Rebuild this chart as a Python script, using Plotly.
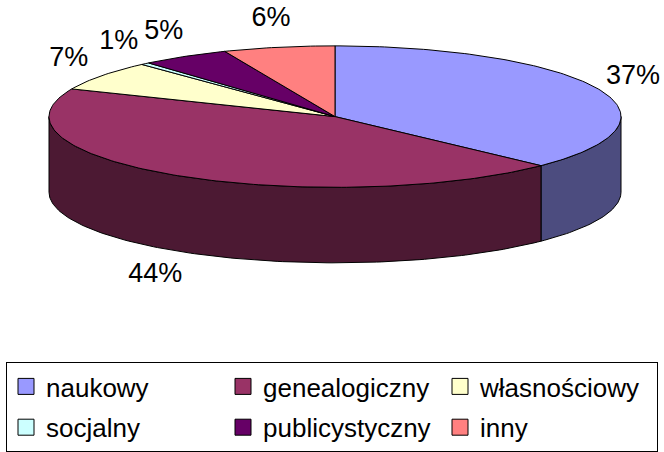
import numpy as np
import plotly.graph_objects as go

# ---- data ----
categories = ["naukowy", "genealogiczny", "własnościowy", "socjalny", "publicystyczny", "inny"]
values = [37.2, 44.2, 6.8, 0.5, 5.0, 6.3]
colors = ["#9999FF", "#993366", "#FFFFCC", "#CCFFFF", "#660066", "#FF8080"]

# ---- layout / geometry of the 3-D pie (pixel units) ----
W, H = 664, 452
CX, CY, RX, RY, DEPTH = 335, 122, 286, 74, 79
FONT = "Liberation Sans, Arial, sans-serif"
LABEL_SIZE = 27


def darken(hexc, f=0.5):
    h = hexc.lstrip("#")
    r, g, b = (int(h[i:i + 2], 16) for i in (0, 2, 4))
    return "#%02X%02X%02X" % (int(r * f), int(g * f), int(b * f))


def ell(theta_deg, dz=0.0):
    t = np.radians(theta_deg)
    return CX + RX * np.sin(t), CY - RY * np.cos(t) + dz


total = float(sum(values))
bounds = np.concatenate([[0.0], np.cumsum(values)]) * 360.0 / total

fig = go.Figure()

# side walls (front half only: 90..270 deg clockwise from 12 o'clock)
for i, c in enumerate(colors):
    a0, a1 = bounds[i], bounds[i + 1]
    lo, hi = max(a0, 90.0), min(a1, 270.0)
    if hi <= lo:
        continue
    n = max(3, int(hi - lo) + 2)
    th = np.linspace(lo, hi, n)
    xt, yt = ell(th)
    xb, yb = ell(th[::-1], DEPTH)
    xs = np.concatenate([xt, xb, xt[:1]])
    ys = np.concatenate([yt, yb, yt[:1]])
    fig.add_trace(go.Scatter(x=xs, y=ys, mode="lines", fill="toself",
                             fillcolor=darken(c), line=dict(color="black", width=1),
                             hoverinfo="skip", showlegend=False))

# top faces
for i, c in enumerate(colors):
    a0, a1 = bounds[i], bounds[i + 1]
    n = max(3, int(a1 - a0) + 2)
    th = np.linspace(a0, a1, n)
    xa, ya = ell(th)
    xs = np.concatenate([[CX], xa, [CX]])
    ys = np.concatenate([[CY], ya, [CY]])
    fig.add_trace(go.Scatter(x=xs, y=ys, mode="lines", fill="toself",
                             fillcolor=c, line=dict(color="black", width=1),
                             hoverinfo="skip", showlegend=False))

# percentage labels
lx, ly, lt = [], [], []
for i, v in enumerate(values):
    mid = (bounds[i] + bounds[i + 1]) / 2.0
    dz = DEPTH if 90.0 < mid < 270.0 else 0.0
    px, py = ell(mid, dz)
    t = np.radians(mid)
    txt = "%d%%" % int(v / total * 100 + 0.5)
    half_w = (0.556 * (len(txt) - 1) + 0.889) * LABEL_SIZE / 2.0
    x = px + np.sin(t) * 40
    x = min(max(x, half_w + 4), W - half_w - 4)
    lx.append(x)
    ly.append(py - np.cos(t) * 30)
    lt.append(txt)
fig.add_trace(go.Scatter(x=lx, y=ly, mode="text", text=lt,
                         textfont=dict(family=FONT, size=LABEL_SIZE, color="black"),
                         textposition="middle center", hoverinfo="skip",
                         showlegend=False, cliponaxis=False))

# legend entries (one group each so rows can be spaced with tracegroupgap)
for cat, c in zip(categories, colors):
    fig.add_trace(go.Scatter(x=[None], y=[None], mode="markers", name=cat,
                             legendgroup=cat,
                             marker=dict(symbol="square", size=16, color=c,
                                         line=dict(color="black", width=1)),
                             hoverinfo="skip", showlegend=True))

fig.update_layout(
    width=W, height=H, autosize=False,
    margin=dict(l=0, r=0, t=0, b=0, pad=0),
    paper_bgcolor="white", plot_bgcolor="white",
    xaxis=dict(range=[0, W], visible=False, fixedrange=True),
    yaxis=dict(range=[H, 0], visible=False, fixedrange=True),
    showlegend=True,
    hovermode=False,
    legend=dict(orientation="h", x=6 / W, xanchor="left",
                y=1 - 379 / H, yanchor="top",
                entrywidth=172, entrywidthmode="pixels",
                tracegroupgap=4,
                bgcolor="white", bordercolor="black", borderwidth=1,
                font=dict(family=FONT, size=26, color="black"),
                traceorder="grouped"),
)

# remove the browser's default 8px page margin so the figure fills the window
fig.write_html("out.html",
               config={"displayModeBar": False, "staticPlot": False},
               post_script="document.body.style.margin='0';"
                           "document.body.style.overflow='hidden';")
